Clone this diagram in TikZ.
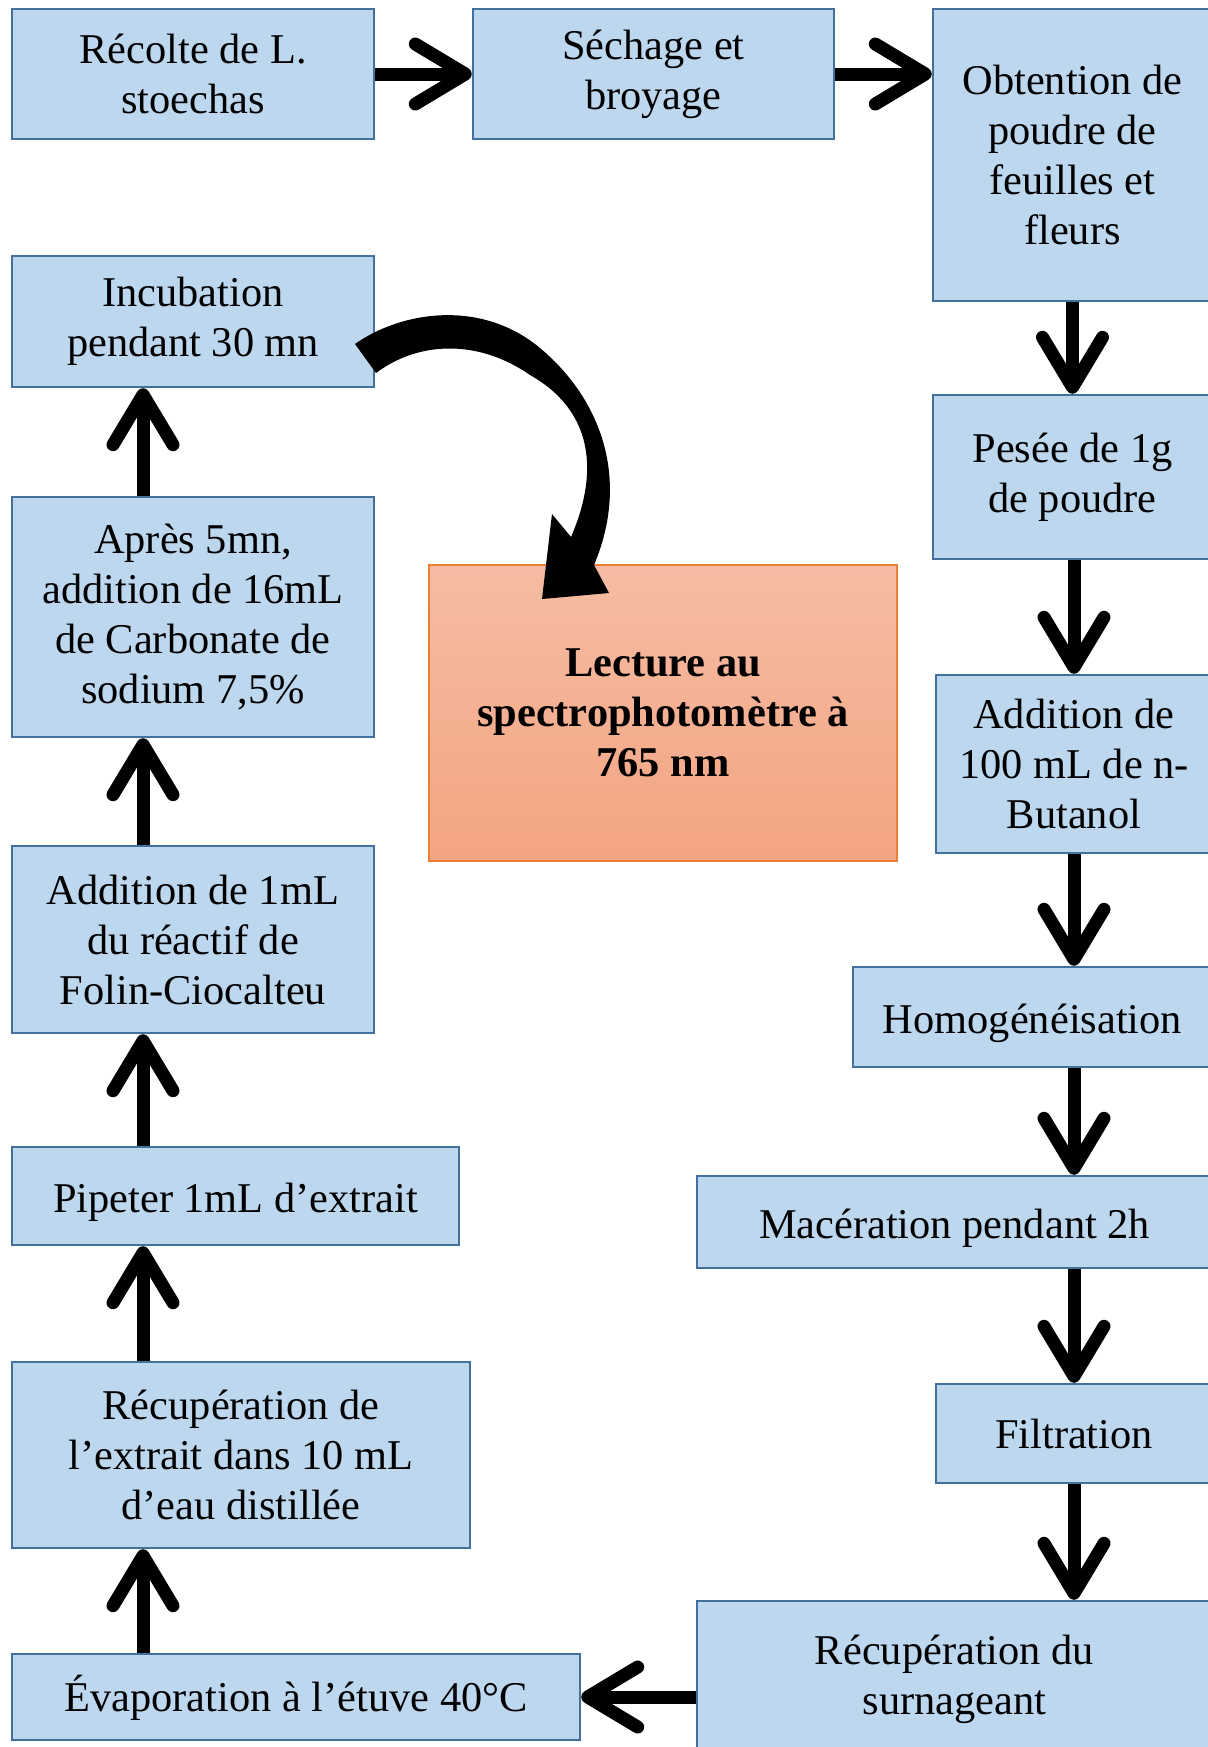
\documentclass[tikz,border=0pt]{standalone}
\usepackage{fontspec}
\setmainfont{Liberation Serif}
\usetikzlibrary{arrows.meta}
\definecolor{boxfill}{HTML}{BDD7EE}
\definecolor{boxdraw}{HTML}{41719C}
\definecolor{lectop}{HTML}{F5BCA3}
\definecolor{lecbot}{HTML}{F4A482}
\definecolor{lecdraw}{HTML}{ED7D31}
\tikzset{
  box/.style={draw=boxdraw, line width=1.2pt, fill=boxfill, align=center, inner sep=0pt, font=\fontsize{21.2}{25}\selectfont},
  lowtext/.style={text height=21.5pt, text depth=4.6pt},
  lecbox/.style={draw=lecdraw, line width=0.8pt, top color=lectop, bottom color=lecbot, align=center, inner sep=0pt, font=\fontsize{21.2}{25}\selectfont\bfseries},
  arr/.style={line width=6.5pt, -{Straight Barb[length=25pt,width=30pt,round]}}
}
\begin{document}
\begin{tikzpicture}[x=0.5pt,y=-0.5pt]
\useasboundingbox (0,0) rectangle (1208,1747);
\clip (0,0) rectangle (1208,1747);
\fill[white] (0,0) rectangle (1208,1747);
\node[box, minimum width=181pt, minimum height=65pt] (rec) at (193,74) {Récolte de L.\\stoechas};
\node[box, minimum width=180.5pt, minimum height=65pt] (sech) at (653.5,74) {Séchage et\\broyage};
\node[box, minimum width=139.5pt, minimum height=146pt] (obt) at (1072.5,155) {Obtention de\\poudre de\\feuilles et\\fleurs};
\node[box, minimum width=181pt, minimum height=65.5pt] (inc) at (193,321.5) {Incubation\\pendant 30 mn};
\node[box, minimum width=139.5pt, minimum height=82pt] (pes) at (1072.5,477) {Pesée de 1g\\de poudre};
\node[box, minimum width=181pt, minimum height=120pt] (apr) at (193,617) {Après 5mn,\\addition de 16mL\\de Carbonate de\\sodium 7,5\%};
\node[lecbox, minimum width=234pt, minimum height=148pt] (lec) at (663,713) {Lecture au\\spectrophotomètre à\\765 nm};
\node[box, minimum width=138pt, minimum height=89pt] (add100) at (1074,764) {Addition de\\100 mL de n-\\Butanol};
\node[box, minimum width=181pt, minimum height=93.5pt] (add1) at (193,939.5) {Addition de 1mL\\du réactif de\\Folin-Ciocalteu};
\node[box, lowtext, minimum width=179.5pt, minimum height=50pt] (hom) at (1032.5,1017) {Homogénéisation};
\node[box, lowtext, minimum width=223.5pt, minimum height=49pt] (pip) at (235.5,1196) {Pipeter 1mL d’extrait};
\node[box, lowtext, minimum width=257.5pt, minimum height=46pt] (mac) at (954.5,1222) {Macération pendant 2h};
\node[box, minimum width=138pt, minimum height=49.5pt] (fil) at (1074,1433.5) {Filtration};
\node[box, minimum width=229pt, minimum height=93pt] (rext) at (241,1455) {Récupération de\\l’extrait dans 10 mL\\d’eau distillée};
\node[box, text height=19.5pt, text depth=4.6pt, minimum width=284pt, minimum height=43pt] (eva) at (296,1697) {Évaporation à l’étuve 40°C};
\node[box, minimum width=257.5pt, minimum height=78pt] (rsur) at (954.5,1679) {Récupération du\\surnageant};
\coordinate (lx) at (143,0);
% right column
\draw[arr] (rec.east) -- (rec.east -| sech.west);
\draw[arr] (rec.east -| sech.east) -- (rec.east -| obt.west);
\draw[arr] (obt.south) -- (pes.north);
\draw[arr] (pes.south -| add100.north) -- (add100.north);
\draw[arr] (add100.south) -- (add100.south |- hom.north);
\draw[arr] (hom.south -| add100.south) -- (add100.south |- mac.north);
\draw[arr] (mac.south -| fil.north) -- (fil.north);
\draw[arr] (fil.south) -- (fil.south |- rsur.north);
\draw[arr] (rsur.west |- eva.east) -- (eva.east);
% left column
\draw[arr] (eva.north -| lx) -- (rext.south -| lx);
\draw[arr] (rext.north -| lx) -- (pip.south -| lx);
\draw[arr] (pip.north -| lx) -- (add1.south -| lx);
\draw[arr] (add1.north -| lx) -- (apr.south -| lx);
\draw[arr] (apr.north -| lx) -- (inc.south -| lx);
% curved arrow
\fill[black] (355,344) .. controls (400,312) and (480,298) .. (540,348)
  .. controls (602,400) and (630,480) .. (594,565)
  -- (609,593) -- (542,599) -- (552,514) -- (571,537)
  .. controls (600,470) and (592,410) .. (530,375)
  .. controls (480,340) and (420,340) .. (376,373) -- cycle;
\end{tikzpicture}
\end{document}
